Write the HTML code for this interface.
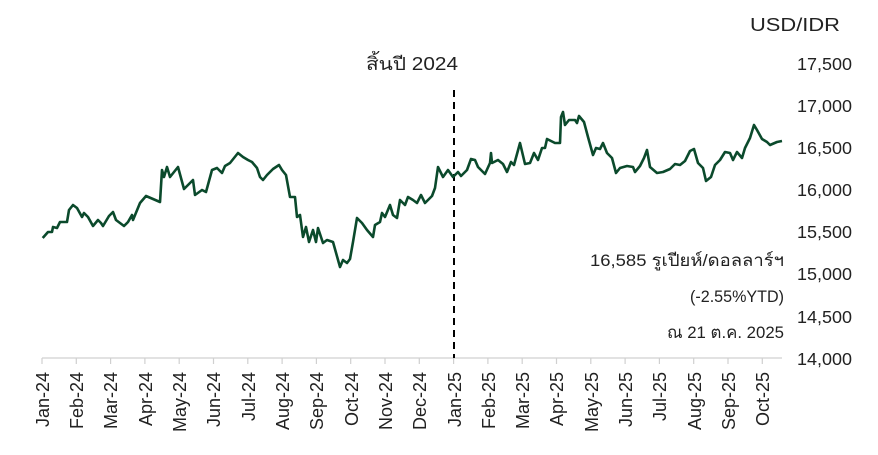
<!DOCTYPE html>
<html><head><meta charset="utf-8"><style>
html,body{margin:0;padding:0;background:#fff;}
svg text{font-family:"Liberation Sans","Noto Sans CJK SC",sans-serif;fill:#222;}
</style></head><body>
<svg width="878" height="450" viewBox="0 0 878 450" xmlns="http://www.w3.org/2000/svg">
<text x="750" y="31" font-size="18" textLength="90" lengthAdjust="spacingAndGlyphs">USD/IDR</text>
<g font-size="17.5">
<text x="797" y="70" textLength="55" lengthAdjust="spacingAndGlyphs">17,500</text>
<text x="797" y="112" textLength="55" lengthAdjust="spacingAndGlyphs">17,000</text>
<text x="797" y="154" textLength="55" lengthAdjust="spacingAndGlyphs">16,500</text>
<text x="797" y="196" textLength="55" lengthAdjust="spacingAndGlyphs">16,000</text>
<text x="797" y="238" textLength="55" lengthAdjust="spacingAndGlyphs">15,500</text>
<text x="797" y="280" textLength="55" lengthAdjust="spacingAndGlyphs">15,000</text>
<text x="797" y="323" textLength="55" lengthAdjust="spacingAndGlyphs">14,500</text>
<text x="797" y="365" textLength="55" lengthAdjust="spacingAndGlyphs">14,000</text>
</g>
<g stroke="#d0d0d0" stroke-width="1.2">
<line x1="42" y1="358" x2="782" y2="358"/>
<path d="M42,358v6M76.3,358v6M110.6,358v6M144.9,358v6M179.2,358v6M213.5,358v6M247.8,358v6M282.1,358v6M316.4,358v6M350.7,358v6M385,358v6M419.3,358v6M453.6,358v6M487.9,358v6M522.2,358v6M556.5,358v6M590.8,358v6M625.1,358v6M659.4,358v6M693.7,358v6M728,358v6M762.3,358v6"/>
</g>
<line x1="454" y1="90" x2="454" y2="358" stroke="#000" stroke-width="2" stroke-dasharray="7,5"/>
<text x="366" y="70" font-size="18" textLength="92" lengthAdjust="spacingAndGlyphs">สิ้นปี 2024</text>
<g font-size="17">
<text x="590" y="266" textLength="194" lengthAdjust="spacingAndGlyphs">16,585 รูเปียห์/ดอลลาร์ฯ</text>
<text x="690" y="302" textLength="94" lengthAdjust="spacingAndGlyphs">(-2.55%YTD)</text>
<text x="667" y="338" textLength="117" lengthAdjust="spacingAndGlyphs">ณ 21 ต.ค. 2025</text>
</g>
<g font-size="18" text-anchor="end">
<text transform="translate(49,372) rotate(-90)">Jan-24</text>
<text transform="translate(83,372) rotate(-90)">Feb-24</text>
<text transform="translate(117,372) rotate(-90)">Mar-24</text>
<text transform="translate(152,372) rotate(-90)">Apr-24</text>
<text transform="translate(186,372) rotate(-90)">May-24</text>
<text transform="translate(220,372) rotate(-90)">Jun-24</text>
<text transform="translate(255,372) rotate(-90)">Jul-24</text>
<text transform="translate(289,372) rotate(-90)">Aug-24</text>
<text transform="translate(323,372) rotate(-90)">Sep-24</text>
<text transform="translate(358,372) rotate(-90)">Oct-24</text>
<text transform="translate(392,372) rotate(-90)">Nov-24</text>
<text transform="translate(426,372) rotate(-90)">Dec-24</text>
<text transform="translate(461,372) rotate(-90)">Jan-25</text>
<text transform="translate(495,372) rotate(-90)">Feb-25</text>
<text transform="translate(529,372) rotate(-90)">Mar-25</text>
<text transform="translate(563,372) rotate(-90)">Apr-25</text>
<text transform="translate(598,372) rotate(-90)">May-25</text>
<text transform="translate(632,372) rotate(-90)">Jun-25</text>
<text transform="translate(666,372) rotate(-90)">Jul-25</text>
<text transform="translate(701,372) rotate(-90)">Aug-25</text>
<text transform="translate(735,372) rotate(-90)">Sep-25</text>
<text transform="translate(769,372) rotate(-90)">Oct-25</text>
</g>
<polyline fill="none" stroke="#0b4a2c" stroke-width="2.6" stroke-linejoin="round" points="
42.7,238 48,232 52,232 53,227 57,228 60,222 67,222 69,210 73,205 77,208 82,217 84,213 88,217 93,226 98,220 101,223 103,226 109,216 113,212 116,220 124,226 128,222 132,215 133,220 140,203 146,196 160,202 162,170 164,177 167,167 170,177 178,167 184,189 193,180 195,195 202,190 206,192 212,170 217,168 222,173 225,166 230,163 238,153 243,157 248,160 252,162 257,168 260,177 263,180 267,175 273,169 279,165 282,170 286,175 290,197 295,197 297,217 300,215 303,237 306,227 309,242 313,230 316,242 318,228 323,243 327,240 333,242 340,267 343,260 347,263 350,259 353,242 357,218 362,223 367,230 373,237 375,225 380,222 382,213 385,217 390,205 393,215 397,218 400,200 405,205 408,197 413,200 417,203 421,195 425,203 432,196 435,188 438,167 443,177 448,170 453,177 458,172 461,176 467,170 471,159 475,160 478,167 485,174 490,163 491,153 492,163 498,160 503,164 507,172 511,162 514,165 520,143 525,164 530,163 534,153 538,160 542,148 545,148 547,139 555,143 560,143 561,117 563,112 565,125 569,120 575,120 577,123 579,116 584,122 588,137 593,155 596,148 600,149 603,143 607,153 612,158 616,173 620,168 627,166 633,167 635,172 640,166 644,158 647,150 650,167 657,173 663,172 670,169 675,164 680,165 685,161 690,151 694,149 698,163 703,168 706,181 711,177 715,165 720,160 725,152 730,153 733,160 737,152 742,158 745,148 750,138 754,125 757,130 762,139 767,142 770,145 777,142 782,141"/>
</svg>
</body></html>
